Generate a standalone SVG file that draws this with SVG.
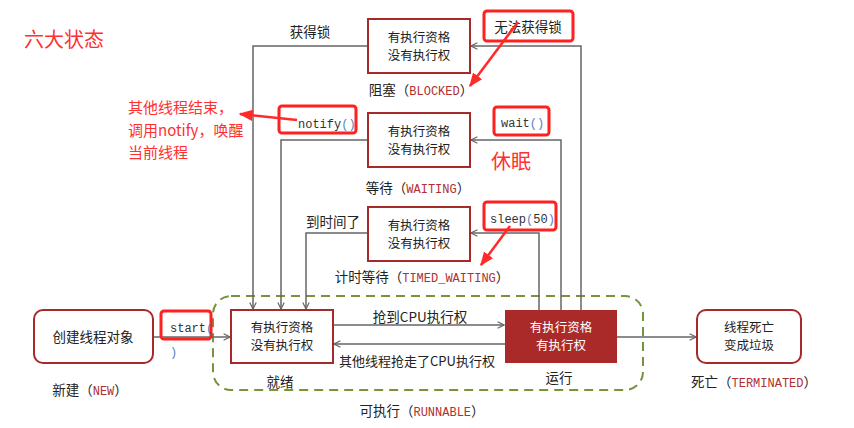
<svg xmlns="http://www.w3.org/2000/svg" width="854" height="428" viewBox="0 0 854 428">
<defs>
<marker id="ah" viewBox="0 0 10 10" refX="9" refY="5" markerWidth="8" markerHeight="8" orient="auto" markerUnits="userSpaceOnUse">
<path d="M1,1 L9,5 L1,9" fill="none" stroke="#666" stroke-width="1.5"/>
</marker>
<marker id="rh" viewBox="0 0 10 10" refX="9" refY="5" markerWidth="14" markerHeight="14" orient="auto" markerUnits="userSpaceOnUse">
<path d="M0,1 L10,5 L0,9 Z" fill="#FF2A2A"/>
</marker>
<style>
text{font-family:"Noto Sans CJK SC","Liberation Sans",sans-serif;font-size:13.5px;fill:#222;}
.c{text-anchor:middle;}
.b{font-size:12.5px;}
.box{fill:#fff;stroke:#A52A2A;stroke-width:2;}
.run{fill:#AA2A2A;stroke:none;}
.w{fill:#fff;}
.ln{fill:none;stroke:#666;stroke-width:1.5;}
.rb{fill:none;stroke:#FF2020;stroke-width:3;}
.ra{stroke:#FF2A2A;stroke-width:2.5;fill:none;}
.red{fill:#FF3030;}
.code{font-family:"Liberation Mono",monospace;font-size:12px;fill:#B03030;}
.mono{font-family:"Liberation Mono",monospace;font-size:12px;fill:#333;}
.par{fill:#5a7fbf;}
</style>
</defs>
<g id="title"><text x="24" y="47" class="red" style="font-size:20px">六大状态</text></g>
<g id="runnable-area">
<rect x="213" y="296" width="430" height="94" rx="18" fill="none" stroke="#77933C" stroke-width="2" stroke-dasharray="9,6"/>
<text x="422" y="416" class="c">可执行（<tspan class="code">RUNNABLE</tspan>）</text>
</g>
<g id="connectors">
<path class="ln" d="M153,337 H230" marker-end="url(#ah)"/>
<path class="ln" d="M333,325 H504" marker-end="url(#ah)"/>
<path class="ln" d="M505,344 H334" marker-end="url(#ah)"/>
<path class="ln" d="M617,337 H696" marker-end="url(#ah)"/>
<path class="ln" d="M581,310 V46 H471" marker-end="url(#ah)"/>
<path class="ln" d="M561,310 V140 H471" marker-end="url(#ah)"/>
<path class="ln" d="M539,310 V233 H471" marker-end="url(#ah)"/>
<path class="ln" d="M368,46 H253 V309" marker-end="url(#ah)"/>
<path class="ln" d="M368,140 H281 V309" marker-end="url(#ah)"/>
<path class="ln" d="M368,233 H306 V309" marker-end="url(#ah)"/>
<text x="310" y="37" class="c">获得锁</text>
<text x="333" y="227" class="c">到时间了</text>
<text x="420" y="322" class="c">抢到CPU执行权</text>
<text x="417" y="366" class="c" style="font-size:13px">其他线程抢走了CPU执行权</text>
</g>
<g id="new">
<rect x="34" y="310" width="119" height="53" rx="9" class="box"/>
<text x="93" y="342" class="c">创建线程对象</text>
<text x="90" y="395" class="c">新建（<tspan class="code">NEW</tspan>）</text>
</g>
<g id="ready">
<rect x="231" y="310" width="102" height="53" class="box"/>
<text x="282" y="332" class="c b">有执行资格</text>
<text x="282" y="350" class="c b">没有执行权</text>
<text x="280" y="387" class="c">就绪</text>
</g>
<g id="running">
<rect x="505" y="310" width="112" height="53" class="run"/>
<text x="561" y="332" class="c w b">有执行资格</text>
<text x="561" y="350" class="c w b">有执行权</text>
<text x="559" y="383" class="c">运行</text>
</g>
<g id="terminated">
<rect x="697" y="310" width="104" height="53" rx="9" class="box"/>
<text x="749" y="332" class="c b">线程死亡</text>
<text x="749" y="350" class="c b">变成垃圾</text>
<text x="754" y="387" class="c">死亡（<tspan class="code">TERMINATED</tspan>）</text>
</g>
<g id="blocked">
<rect x="368" y="19" width="102" height="54" class="box"/>
<text x="419" y="42" class="c b">有执行资格</text>
<text x="419" y="60" class="c b">没有执行权</text>
<text x="421" y="95" class="c">阻塞（<tspan class="code">BLOCKED</tspan>）</text>
</g>
<g id="waiting">
<rect x="368" y="113" width="102" height="54" class="box"/>
<text x="419" y="136" class="c b">有执行资格</text>
<text x="419" y="154" class="c b">没有执行权</text>
<text x="418" y="193" class="c">等待（<tspan class="code">WAITING</tspan>）</text>
</g>
<g id="timed-waiting">
<rect x="368" y="207" width="102" height="54" class="box"/>
<text x="419" y="230" class="c b">有执行资格</text>
<text x="419" y="248" class="c b">没有执行权</text>
<text x="422" y="282" class="c">计时等待（<tspan class="code">TIMED_WAITING</tspan>）</text>
</g>
<g id="annotations">
<rect x="161" y="311" width="50" height="28" rx="3" class="rb"/>
<text x="170" y="332" class="mono">start<tspan class="par">(</tspan></text>
<text x="170" y="356" class="mono par">)</text>
<rect x="484" y="11" width="89" height="30" rx="3" class="rb"/>
<text x="528" y="32" class="c">无法获得锁</text>
<path class="ra" d="M518,22 L470,86" marker-end="url(#rh)"/>
<rect x="279" y="106" width="77" height="27" rx="3" class="rb"/>
<text x="298" y="128" class="mono">notify<tspan class="par">()</tspan></text>
<path class="ra" d="M297,120 L240,114" marker-end="url(#rh)"/>
<text x="128" y="113" class="red" style="font-size:15px">其他线程结束，</text>
<text x="128" y="136" class="red" style="font-size:15px">调用notify，唤醒</text>
<text x="128" y="158" class="red" style="font-size:15px">当前线程</text>
<rect x="494" y="107" width="55" height="28" rx="3" class="rb"/>
<text x="501" y="127" class="mono">wait<tspan class="par">()</tspan></text>
<text x="491" y="169" class="red" style="font-size:20px">休眠</text>
<rect x="484" y="202" width="72" height="28" rx="3" class="rb"/>
<text x="490" y="223" class="mono">sleep<tspan class="par">(</tspan>50<tspan class="par">)</tspan></text>
<path class="ra" d="M510,226 L481,265" marker-end="url(#rh)"/>
</g>
</svg>
